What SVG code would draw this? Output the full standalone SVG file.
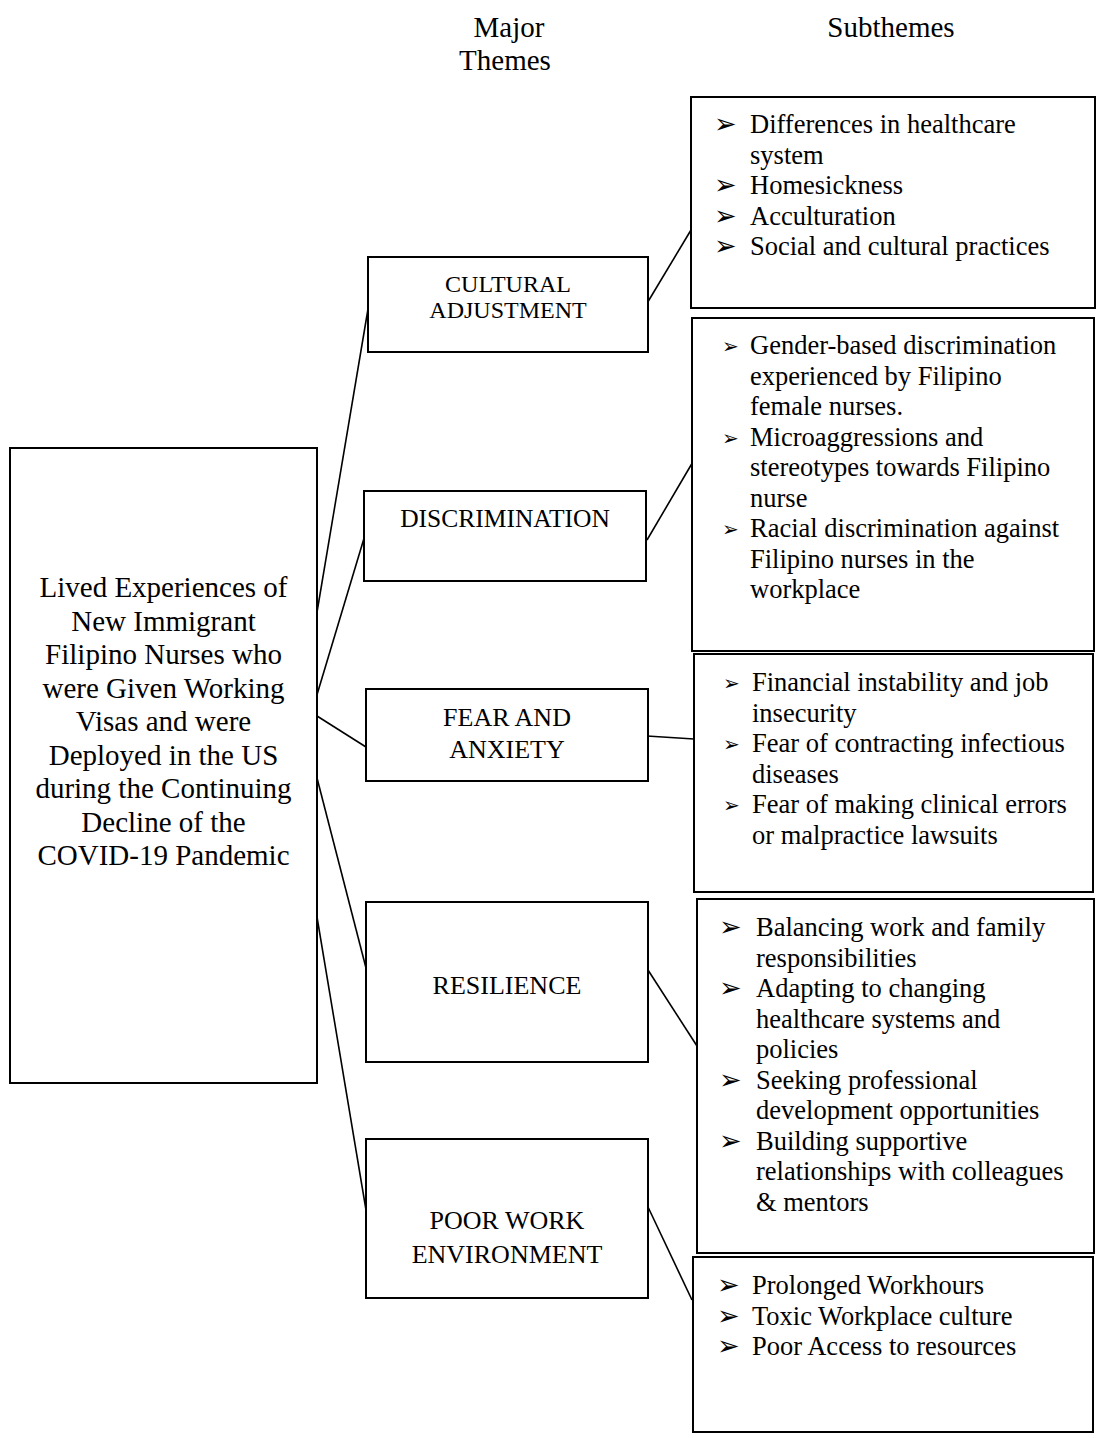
<svg xmlns="http://www.w3.org/2000/svg" width="1097" height="1438" viewBox="0 0 1097 1438">
<style>
text{font-family:"Liberation Serif","Times New Roman",serif;fill:#000}
.box{fill:#fff;stroke:#000;stroke-width:2}
.con line{stroke:#000;stroke-width:1.6}
.hd{font-size:29px;text-anchor:middle}
.main{font-size:29px;text-anchor:middle}
.th{font-size:26px;text-anchor:middle}
.sub{font-size:26.5px}
.bl{font-family:"DejaVu Sans",sans-serif;font-size:27px}
.bs{font-family:"DejaVu Sans",sans-serif;font-size:20px}
</style>
<rect width="1097" height="1438" fill="#fff"/>
<g id="headings">
<text class="hd" x="509" y="37">Major</text>
<text class="hd" x="505" y="70">Themes</text>
<text class="hd" x="891" y="37">Subthemes</text>
</g>
<g id="connectors" class="con">
<line x1="314" y1="630" x2="368" y2="309"/>
<line x1="316" y1="698" x2="365" y2="535"/>
<line x1="317" y1="716" x2="366" y2="747"/>
<line x1="317" y1="778" x2="366" y2="968"/>
<line x1="317" y1="917" x2="366" y2="1210"/>
<line x1="646" y1="305" x2="691" y2="230"/>
<line x1="647" y1="540" x2="694" y2="460"/>
<line x1="647" y1="736" x2="694" y2="739"/>
<line x1="648" y1="970" x2="697" y2="1046"/>
<line x1="648" y1="1207" x2="692" y2="1300"/>
</g>
<g id="root">
<rect class="box" x="10" y="448" width="307" height="635"/>
<text class="main" x="163.5" y="597">Lived Experiences of</text>
<text class="main" x="163.5" y="630.5">New Immigrant</text>
<text class="main" x="163.5" y="664">Filipino Nurses who</text>
<text class="main" x="163.5" y="697.5">were Given Working</text>
<text class="main" x="163.5" y="731">Visas and were</text>
<text class="main" x="163.5" y="764.5">Deployed in the US</text>
<text class="main" x="163.5" y="798">during the Continuing</text>
<text class="main" x="163.5" y="831.5">Decline of the</text>
<text class="main" x="163.5" y="865">COVID-19 Pandemic</text>
</g>
<g id="theme-cultural">
<rect class="box" x="368" y="257" width="280" height="95"/>
<text class="th" x="508" y="292" style="font-size:24px">CULTURAL</text>
<text class="th" x="508" y="318" style="font-size:24px">ADJUSTMENT</text>
</g>
<g id="theme-discrimination">
<rect class="box" x="364" y="491" width="282" height="90"/>
<text class="th" x="505" y="527" style="font-size:25.5px">DISCRIMINATION</text>
</g>
<g id="theme-fear">
<rect class="box" x="366" y="689" width="282" height="92"/>
<text class="th" x="507" y="726">FEAR AND</text>
<text class="th" x="507" y="758">ANXIETY</text>
</g>
<g id="theme-resilience">
<rect class="box" x="366" y="902" width="282" height="160"/>
<text class="th" x="507" y="994">RESILIENCE</text>
</g>
<g id="theme-poor">
<rect class="box" x="366" y="1139" width="282" height="159"/>
<text class="th" x="507" y="1229">POOR WORK</text>
<text class="th" x="507" y="1263">ENVIRONMENT</text>
</g>
<g id="sub-cultural">
<rect class="box" x="691" y="97" width="404" height="211"/>
<text class="bl" x="714" y="133">➢</text>
<text class="sub" x="750" y="133">Differences in healthcare</text>
<text class="sub" x="750" y="163.5">system</text>
<text class="bl" x="714" y="194">➢</text>
<text class="sub" x="750" y="194">Homesickness</text>
<text class="bl" x="714" y="224.5">➢</text>
<text class="sub" x="750" y="224.5">Acculturation</text>
<text class="bl" x="714" y="255">➢</text>
<text class="sub" x="750" y="255">Social and cultural practices</text>
</g>
<g id="sub-discrimination">
<rect class="box" x="692" y="318" width="402" height="333"/>
<text class="bs" x="722" y="353">➢</text>
<text class="sub" x="750" y="354">Gender-based discrimination</text>
<text class="sub" x="750" y="384.5">experienced by Filipino</text>
<text class="sub" x="750" y="415">female nurses.</text>
<text class="bs" x="722" y="444.5">➢</text>
<text class="sub" x="750" y="445.5">Microaggressions and</text>
<text class="sub" x="750" y="476">stereotypes towards Filipino</text>
<text class="sub" x="750" y="506.5">nurse</text>
<text class="bs" x="722" y="536">➢</text>
<text class="sub" x="750" y="537">Racial discrimination against</text>
<text class="sub" x="750" y="567.5">Filipino nurses in the</text>
<text class="sub" x="750" y="598">workplace</text>
</g>
<g id="sub-fear">
<rect class="box" x="694" y="654" width="399" height="238"/>
<text class="bs" x="723" y="690">➢</text>
<text class="sub" x="752" y="691">Financial instability and job</text>
<text class="sub" x="752" y="721.5">insecurity</text>
<text class="bs" x="723" y="751">➢</text>
<text class="sub" x="752" y="752">Fear of contracting infectious</text>
<text class="sub" x="752" y="782.5">diseases</text>
<text class="bs" x="723" y="812">➢</text>
<text class="sub" x="752" y="813">Fear of making clinical errors</text>
<text class="sub" x="752" y="843.5">or malpractice lawsuits</text>
</g>
<g id="sub-resilience">
<rect class="box" x="697" y="899" width="397" height="354"/>
<text class="bl" x="719" y="936">➢</text>
<text class="sub" x="756" y="936">Balancing work and family</text>
<text class="sub" x="756" y="966.5">responsibilities</text>
<text class="bl" x="719" y="997">➢</text>
<text class="sub" x="756" y="997">Adapting to changing</text>
<text class="sub" x="756" y="1027.5">healthcare systems and</text>
<text class="sub" x="756" y="1058">policies</text>
<text class="bl" x="719" y="1088.5">➢</text>
<text class="sub" x="756" y="1088.5">Seeking professional</text>
<text class="sub" x="756" y="1119">development opportunities</text>
<text class="bl" x="719" y="1149.5">➢</text>
<text class="sub" x="756" y="1149.5">Building supportive</text>
<text class="sub" x="756" y="1180">relationships with colleagues</text>
<text class="sub" x="756" y="1210.5">&amp; mentors</text>
</g>
<g id="sub-poor">
<rect class="box" x="693" y="1257" width="400" height="175"/>
<text class="bl" x="717" y="1294">➢</text>
<text class="sub" x="752" y="1294">Prolonged Workhours</text>
<text class="bl" x="717" y="1324.5">➢</text>
<text class="sub" x="752" y="1324.5">Toxic Workplace culture</text>
<text class="bl" x="717" y="1355">➢</text>
<text class="sub" x="752" y="1355">Poor Access to resources</text>
</g>
</svg>
